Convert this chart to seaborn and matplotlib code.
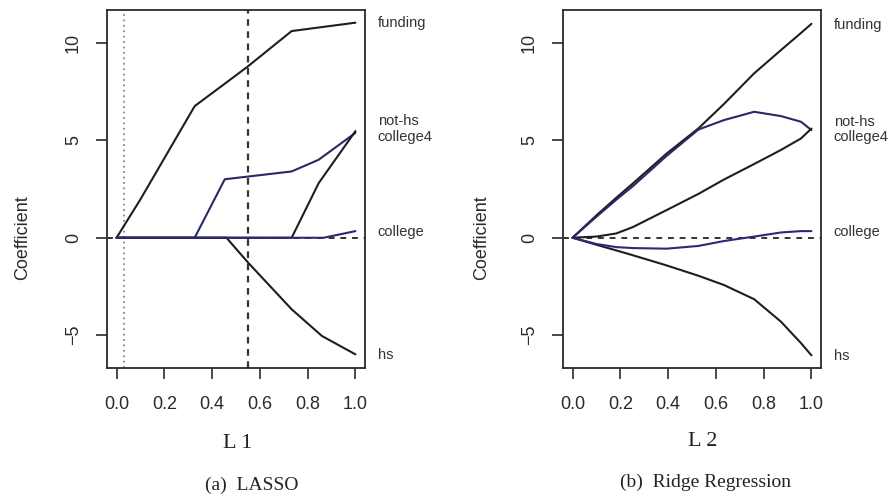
import numpy as np
import pandas as pd
import matplotlib
matplotlib.use("Agg")
import matplotlib.pyplot as plt
import seaborn as sns

# ---------------- data ----------------
series_names = ["funding", "not-hs", "college4", "college", "hs"]

# LASSO paths (x = L1 fraction)
lasso_funding_x = [0.0, 0.10, 0.327, 0.453, 0.551, 0.733, 1.0]
lasso_funding_y = [0.0, 1.97, 6.75, 7.9, 8.8, 10.6, 11.03]
lasso_nothis_x = [0.0, 0.327, 0.453, 0.733, 0.846, 1.0]
lasso_nothis_y = [0.0, 0.0, 3.0, 3.4, 4.0, 5.38]
lasso_college4_x = [0.0, 0.733, 0.846, 1.0]
lasso_college4_y = [0.0, 0.0, 2.8, 5.47]
lasso_college_x = [0.0, 0.867, 1.0]
lasso_college_y = [0.0, 0.0, 0.34]
lasso_hs_x = [0.0, 0.46, 0.551, 0.733, 0.86, 1.0]
lasso_hs_y = [0.0, 0.0, -1.28, -3.67, -5.04, -5.98]

# Ridge paths (x = L2 fraction)
ridge_x = [0.0, 0.1, 0.183, 0.253, 0.394, 0.527, 0.633, 0.76, 0.872, 0.956, 1.0]
ridge_funding = [0.0, 1.15, 2.05, 2.79, 4.32, 5.61, 6.85, 8.43, 9.62, 10.5, 10.97]
ridge_nothis = [0.0, 1.08, 1.95, 2.65, 4.2, 5.55, 6.03, 6.46, 6.24, 5.95, 5.52]
ridge_college4 = [0.0, 0.06, 0.22, 0.55, 1.42, 2.25, 2.98, 3.78, 4.5, 5.09, 5.6]
ridge_college = [0.0, -0.32, -0.48, -0.53, -0.56, -0.42, -0.17, 0.06, 0.27, 0.34, 0.34]
ridge_hs = [0.0, -0.36, -0.65, -0.9, -1.42, -1.95, -2.42, -3.15, -4.3, -5.4, -6.03]

# end labels (y position) for each panel
lasso_label_y = [11.0, 5.98, 5.15, 0.3, -6.0]
ridge_label_y = [10.9, 5.95, 5.15, 0.3, -6.05]

lasso_cv_min = 0.032
lasso_cv_1se = 0.551

x_ticks = [0.0, 0.2, 0.4, 0.6, 0.8, 1.0]
y_ticks = [-5, 0, 5, 10]

# ---------------- frames ----------------
def frame(pairs):
    rows = []
    for name, xs, ys in pairs:
        for xv, yv in zip(xs, ys):
            rows.append({"series": name, "x": xv, "y": yv})
    return pd.DataFrame(rows)

lasso_df = frame([
    ("funding", lasso_funding_x, lasso_funding_y),
    ("not-hs", lasso_nothis_x, lasso_nothis_y),
    ("college4", lasso_college4_x, lasso_college4_y),
    ("hs", lasso_hs_x, lasso_hs_y),
    ("college", lasso_college_x, lasso_college_y),
])
ridge_df = frame([
    ("funding", ridge_x, ridge_funding),
    ("not-hs", ridge_x, ridge_nothis),
    ("college4", ridge_x, ridge_college4),
    ("hs", ridge_x, ridge_hs),
    ("college", ridge_x, ridge_college),
])

palette = {
    "funding": "#1d1d26",
    "not-hs": "#2a2868",
    "college4": "#1d1d26",
    "college": "#2c2a78",
    "hs": "#1d1d26",
}
draw_order = ["funding", "not-hs", "college4", "hs", "college"]

# ---------------- style ----------------
sns.set_style("ticks")
plt.rcParams["font.family"] = ["Liberation Sans", "DejaVu Sans"]
plt.rcParams["axes.edgecolor"] = "#2a2a2a"
plt.rcParams["axes.linewidth"] = 1.3
plt.rcParams["xtick.color"] = "#2a2a2a"
plt.rcParams["ytick.color"] = "#2a2a2a"

fig = plt.figure(figsize=(8.92, 4.99), dpi=100)
W, H = 892.0, 499.0
ax1 = fig.add_axes([107 / W, 1 - 368 / H, 258 / W, 358 / H])
ax2 = fig.add_axes([563 / W, 1 - 368 / H, 258 / W, 358 / H])


def style_axes(ax, label_y):
    ax.set_xlim(-0.04, 1.04)
    ax.set_ylim(-6.68, 11.68)
    ax.set_xticks(x_ticks)
    ax.set_xticklabels([f"{t:.1f}" for t in x_ticks], fontsize=13, color="#2a2a2a")
    ax.set_yticks(y_ticks)
    ax.set_yticklabels([str(t).replace("-", "\u2212") for t in y_ticks], fontsize=13,
                       rotation=90, va="center", color="#2a2a2a")
    ax.tick_params(axis="both", direction="out", length=8, width=1.2, pad=12)
    ax.tick_params(axis="y", pad=10)
    for sp in ax.spines.values():
        sp.set_visible(True)
    ax.set_xlabel("")
    ax.set_ylabel("")
    leg = ax.get_legend()
    if leg is not None:
        leg.remove()
    for name, yv in zip(series_names, label_y):
        ax.text(1.093, yv, name, fontsize=10.5, color="#333333", ha="left",
                va="center", clip_on=False, transform=ax.transData)


# LASSO panel
ax1.axhline(0, color="#333333", lw=1.4, ls=(0, (3, 3)), zorder=1)
ax1.axvline(lasso_cv_min, color="#888888", lw=1.3, ls=(0, (1, 2)), zorder=1)
ax1.axvline(lasso_cv_1se, color="#333333", lw=1.6, ls=(0, (3, 2.5)), zorder=1)
sns.lineplot(data=lasso_df, x="x", y="y", hue="series", hue_order=draw_order,
             palette=palette, sort=False, estimator=None, lw=1.5, ax=ax1,
             legend=False, zorder=3)
style_axes(ax1, lasso_label_y)

# Ridge panel
ax2.axhline(0, color="#333333", lw=1.4, ls=(0, (3, 3)), zorder=1)
sns.lineplot(data=ridge_df, x="x", y="y", hue="series", hue_order=draw_order,
             palette=palette, sort=False, estimator=None, lw=1.5, ax=ax2,
             legend=False, zorder=3)
style_axes(ax2, ridge_label_y)

# y-axis titles
fig.text(23 / W, 1 - 238 / H, "Coefficient", rotation=90, fontsize=13,
         ha="center", va="center", color="#2a2a2a")
fig.text(482 / W, 1 - 238 / H, "Coefficient", rotation=90, fontsize=13,
         ha="center", va="center", color="#2a2a2a")

# x-axis titles and captions (serif)
serif = ["Liberation Serif", "DejaVu Serif"]
fig.text(238 / W, 1 - 443 / H, "L 1", fontsize=16, family=serif,
         ha="center", va="center", color="#222222")
fig.text(703 / W, 1 - 441 / H, "L 2", fontsize=16, family=serif,
         ha="center", va="center", color="#222222")
fig.text(252 / W, 1 - 485 / H, "(a)  LASSO", fontsize=14, family=serif,
         ha="center", va="center", color="#222222")
fig.text(705 / W, 1 - 482 / H, "(b)  Ridge Regression", fontsize=14, family=serif,
         ha="center", va="center", color="#222222")

fig.savefig("out.png", dpi=100)
